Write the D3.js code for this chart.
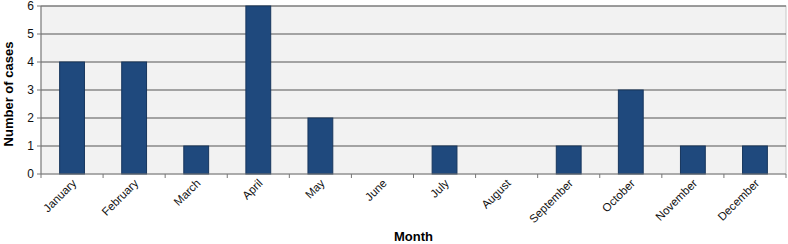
<!DOCTYPE html>
<html>
<head>
<meta charset="utf-8">
<script src="https://cdn.jsdelivr.net/npm/d3@7"></script>
<style>
body { margin: 0; background: #fff; }
text { font-family: "Liberation Sans", Arial, sans-serif; }
</style>
</head>
<body>
<svg width="788" height="244"></svg>
<script>
var months = ["January", "February", "March", "April", "May", "June", "July",
    "August", "September", "October", "November", "December"];
var cases = [4, 4, 1, 6, 2, 0, 1, 0, 1, 3, 1, 1];
var yTicks = [0, 1, 2, 3, 4, 5, 6];

var svg = d3.select("svg"),
    margin = {top: 6, right: 2, bottom: 70, left: 41},
    width = +svg.attr("width") - margin.left - margin.right,
    height = +svg.attr("height") - margin.top - margin.bottom;

var x = d3.scaleBand().range([0, width]).domain(months).paddingInner(0.6).paddingOuter(0.3),
    xt = d3.scaleBand().range([0, width]).domain(months),
    y = d3.scaleLinear().range([height, 0]).domain([0, 6]);

var g = svg.append("g")
    .attr("transform", "translate(" + margin.left + "," + margin.top + ")");

// plot background
g.append("rect")
    .attr("width", width).attr("height", height)
    .attr("fill", "#f2f2f2")
    .attr("stroke", "#c8c8c8");

// grid lines
g.selectAll(".grid")
    .data(yTicks.slice(1))
    .enter().append("line")
    .attr("x1", 0).attr("x2", width)
    .attr("y1", function (d) { return y(d); })
    .attr("y2", function (d) { return y(d); })
    .attr("stroke", "#555")
    .attr("stroke-width", 1);

g.selectAll(".bar")
    .data(months)
    .enter().append("rect")
    .attr("class", "bar")
    .attr("x", function (d) { return x(d); })
    .attr("y", function (d, i) { return y(cases[i]); })
    .attr("width", x.bandwidth())
    .attr("height", function (d, i) { return height - y(cases[i]); })
    .attr("fill", "#1f497d")
    .attr("stroke", "#17365d")
    .attr("stroke-width", 1);

// x axis
var xAxis = g.append("g")
    .attr("transform", "translate(0," + height + ")");
xAxis.append("line").attr("x1", 0).attr("x2", width).attr("stroke", "#777");
xAxis.selectAll(".tk")
    .data(months.concat(["end"]))
    .enter().append("line")
    .attr("x1", function (d, i) { return i * xt.step(); })
    .attr("x2", function (d, i) { return i * xt.step(); })
    .attr("y1", 0).attr("y2", 4)
    .attr("stroke", "#777");
xAxis.selectAll(".lbl")
    .data(months)
    .enter().append("text")
    .attr("text-anchor", "end")
    .attr("font-size", "11.5px")
    .attr("fill", "#111")
    .attr("transform", function (d) {
        return "translate(" + (xt(d) + xt.bandwidth() / 2 + 5) + ",10)rotate(-45)";
    })
    .text(function (d) { return d; });

// y axis
var yAxis = g.append("g");
yAxis.append("line").attr("y1", 0).attr("y2", height).attr("stroke", "#777");
yAxis.selectAll(".tk")
    .data(yTicks)
    .enter().append("line")
    .attr("x1", -4).attr("x2", 0)
    .attr("y1", function (d) { return y(d); })
    .attr("y2", function (d) { return y(d); })
    .attr("stroke", "#777");
yAxis.selectAll(".lbl")
    .data(yTicks)
    .enter().append("text")
    .attr("x", -7)
    .attr("y", function (d) { return y(d); })
    .attr("dy", "0.35em")
    .attr("text-anchor", "end")
    .attr("font-size", "12px")
    .attr("fill", "#111")
    .text(function (d) { return d; });

/* axis titles */
svg.append("text")
    .attr("x", margin.left + width / 2)
    .attr("y", 241)
    .attr("text-anchor", "middle")
    .attr("font-size", "13px")
    .attr("font-weight", "bold")
    .text("Month");

svg.append("text")
    .attr("transform", "translate(13,94)rotate(-90)")
    .attr("text-anchor", "middle")
    .attr("font-size", "13px")
    .attr("font-weight", "bold")
    .text("Number of cases");
</script>
</body>
</html>
